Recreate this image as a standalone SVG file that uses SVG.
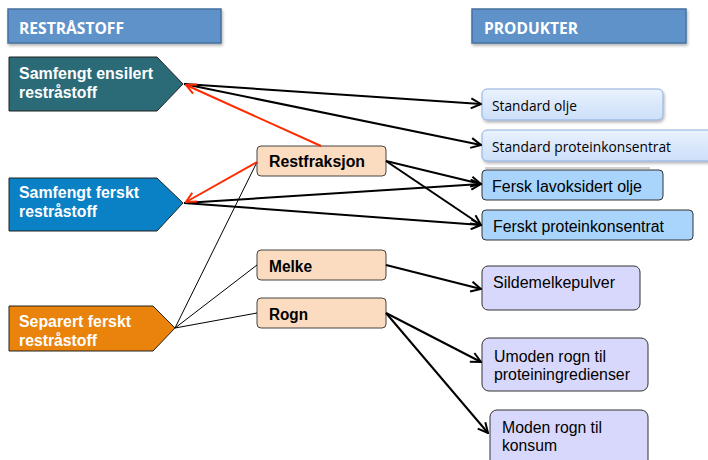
<svg xmlns="http://www.w3.org/2000/svg" width="708" height="460" viewBox="0 0 708 460">
<defs>
<marker id="ah" viewBox="0 0 12 12" refX="11" refY="6" markerWidth="12" markerHeight="12" markerUnits="userSpaceOnUse" orient="auto">
<path d="M1,1 L11,6 L1,11" fill="none" stroke="#000" stroke-width="2"/>
</marker>
<marker id="ahr" viewBox="0 0 12 12" refX="11" refY="6" markerWidth="12" markerHeight="12" markerUnits="userSpaceOnUse" orient="auto">
<path d="M1,1 L11,6 L1,11" fill="none" stroke="#ff2a00" stroke-width="2"/>
</marker>
<linearGradient id="gstd" x1="0" y1="0" x2="0" y2="1">
<stop offset="0" stop-color="#eaf2fd"/>
<stop offset="0.5" stop-color="#dae8fb"/>
<stop offset="1" stop-color="#cddff8"/>
</linearGradient>
<filter id="sh" x="-10%" y="-10%" width="130%" height="150%">
<feDropShadow dx="1" dy="2" stdDeviation="1.5" flood-color="#000" flood-opacity="0.3"/>
</filter>
</defs>
<style>
.hdr{fill:#5e92c9;stroke:#46709e;stroke-width:1.5}
.hdrt{font-family:"Open Sans","Liberation Sans",sans-serif;font-weight:bold;font-size:15.5px;fill:#fff}
.src{stroke:#222;stroke-width:1}
.srct{font-family:"Liberation Sans",Arial,sans-serif;font-weight:bold;font-size:16px;fill:#fff}
.mid{fill:#fbdcc0;stroke:#444;stroke-width:1}
.midt{font-family:"Liberation Sans",Arial,sans-serif;font-weight:bold;font-size:16px;fill:#000}
.std{fill:url(#gstd);stroke:#8cafe0;stroke-width:1}
.stdt{font-family:"Open Sans","Liberation Sans",sans-serif;font-size:14px;fill:#000}
.frs{fill:#a9d4fb;stroke:#333;stroke-width:1}
.lav{fill:#d8d8fc;stroke:#333;stroke-width:1}
.prt{font-family:"Liberation Sans",Arial,sans-serif;font-size:16px;fill:#000}
.a{fill:none;stroke:#000;stroke-width:2;marker-end:url(#ah)}
.r{fill:none;stroke:#ff2a00;stroke-width:2;marker-end:url(#ahr)}
.t{fill:none;stroke:#000;stroke-width:1}
</style>

<g id="hdr-reststoff">
<rect class="hdr" x="8" y="9" width="213" height="34" filter="url(#sh)"/>
<text class="hdrt" x="19" y="34" textLength="105" lengthAdjust="spacingAndGlyphs">RESTRÅSTOFF</text>
</g>
<g id="hdr-produkter">
<rect class="hdr" x="472" y="9" width="214" height="34" filter="url(#sh)"/>
<text class="hdrt" x="484" y="34" textLength="94" lengthAdjust="spacingAndGlyphs">PRODUKTER</text>
</g>

<g id="n-ensilert">
<polygon class="src" points="9,57 157,57 183,84 157,111 9,111" fill="#2b6b78"/>
<text class="srct" x="19" y="79" textLength="134" lengthAdjust="spacingAndGlyphs">Samfengt ensilert</text>
<text class="srct" x="19" y="98" textLength="78" lengthAdjust="spacingAndGlyphs">restråstoff</text>
</g>
<g id="n-ferskt">
<polygon class="src" points="9,178 157,178 183,203 157,231 9,231" fill="#0a80c5"/>
<text class="srct" x="19" y="198" textLength="120" lengthAdjust="spacingAndGlyphs">Samfengt ferskt</text>
<text class="srct" x="19" y="217" textLength="78" lengthAdjust="spacingAndGlyphs">restråstoff</text>
</g>
<g id="n-separert">
<polygon class="src" points="9,306 153,306 175,328 153,351 9,351" fill="#ea830c"/>
<text class="srct" x="19" y="327" textLength="112" lengthAdjust="spacingAndGlyphs">Separert ferskt</text>
<text class="srct" x="19" y="346" textLength="78" lengthAdjust="spacingAndGlyphs">restråstoff</text>
</g>

<g id="n-restfraksjon">
<rect class="mid" x="257" y="146" width="129" height="30" rx="4"/>
<text class="midt" x="269" y="167" textLength="96" lengthAdjust="spacingAndGlyphs">Restfraksjon</text>
</g>
<g id="n-melke">
<rect class="mid" x="257" y="250" width="129" height="30" rx="4"/>
<text class="midt" x="269" y="272" textLength="43" lengthAdjust="spacingAndGlyphs">Melke</text>
</g>
<g id="n-rogn">
<rect class="mid" x="257" y="298" width="129" height="30" rx="4"/>
<text class="midt" x="269" y="320" textLength="39" lengthAdjust="spacingAndGlyphs">Rogn</text>
</g>

<g id="p-standard-olje">
<rect class="std" x="482" y="89" width="181" height="31" rx="5" filter="url(#sh)"/>
<text class="stdt" x="492" y="111" textLength="85" lengthAdjust="spacingAndGlyphs">Standard olje</text>
</g>
<g id="p-standard-protein">
<rect class="std" x="482" y="130" width="232" height="31" rx="5" filter="url(#sh)"/>
<text class="stdt" x="492" y="152" textLength="179" lengthAdjust="spacingAndGlyphs">Standard proteinkonsentrat</text>
<line x1="485" y1="168" x2="650" y2="168" stroke="#a0a0a0" stroke-width="1"/>
</g>
<g id="p-fersk-olje">
<rect class="frs" x="482" y="170" width="181" height="30" rx="4"/>
<text class="prt" x="492" y="192" textLength="150" lengthAdjust="spacingAndGlyphs">Fersk lavoksidert olje</text>
</g>
<g id="p-fersk-protein">
<rect class="frs" x="482" y="210" width="211" height="30" rx="4"/>
<text class="prt" x="493" y="232" textLength="171" lengthAdjust="spacingAndGlyphs">Ferskt proteinkonsentrat</text>
</g>
<g id="p-sildemelke">
<rect class="lav" x="482" y="266" width="158" height="44" rx="6"/>
<text class="prt" x="493" y="288" textLength="122" lengthAdjust="spacingAndGlyphs">Sildemelkepulver</text>
</g>
<g id="p-umoden">
<rect class="lav" x="482" y="338" width="166" height="53" rx="7"/>
<text class="prt" x="494" y="362" textLength="112" lengthAdjust="spacingAndGlyphs">Umoden rogn til</text>
<text class="prt" x="494" y="380" textLength="136" lengthAdjust="spacingAndGlyphs">proteiningredienser</text>
</g>
<g id="p-moden">
<rect class="lav" x="490" y="410" width="158" height="60" rx="7"/>
<text class="prt" x="502" y="433" textLength="100" lengthAdjust="spacingAndGlyphs">Moden rogn til</text>
<text class="prt" x="502" y="451" textLength="55" lengthAdjust="spacingAndGlyphs">konsum</text>
</g>

<g id="connectors">
<line class="t" x1="175" y1="328" x2="257" y2="162"/>
<line class="t" x1="175" y1="328" x2="257" y2="265"/>
<line class="t" x1="175" y1="328" x2="257" y2="313"/>
<line class="a" x1="184" y1="84" x2="481" y2="104"/>
<line class="a" x1="184" y1="84" x2="481" y2="145"/>
<line class="a" x1="184" y1="203" x2="481" y2="184"/>
<line class="a" x1="184" y1="203" x2="481" y2="225"/>
<line class="a" x1="386" y1="161" x2="481" y2="184"/>
<line class="a" x1="386" y1="161" x2="481" y2="225"/>
<line class="a" x1="386" y1="265" x2="481" y2="289"/>
<line class="a" x1="386" y1="313" x2="481" y2="362"/>
<line class="a" x1="386" y1="313" x2="488" y2="433"/>
<line class="r" x1="321" y1="146" x2="186" y2="85"/>
<line class="r" x1="257" y1="162" x2="186" y2="202"/>
</g>
</svg>
